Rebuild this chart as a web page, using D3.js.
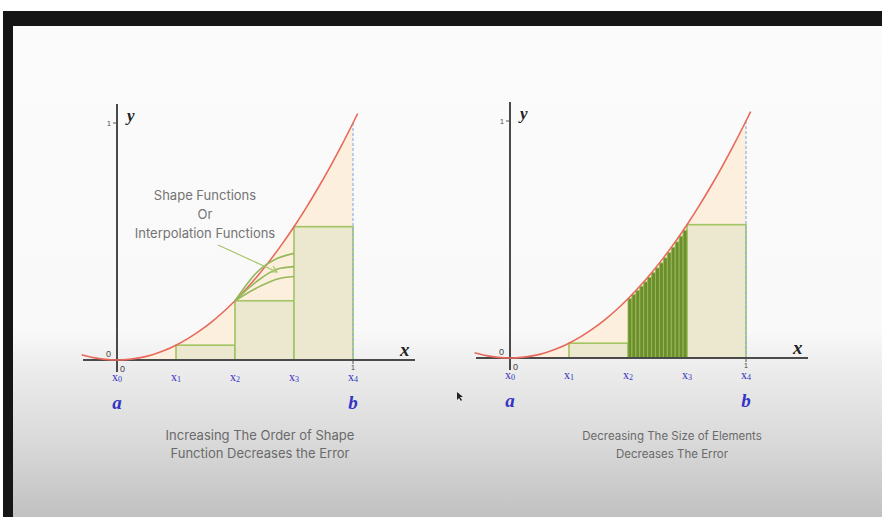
<!DOCTYPE html>
<html>
<head>
<meta charset="utf-8">
<script src="https://cdn.jsdelivr.net/npm/d3@7"></script>
<style>
  body { margin: 0; background: #fff; }
  svg { display: block; }
</style>
</head>
<body>
<script>
// y = x^2 illustration, two panels: coarse elements vs refined elements

const width = 882;
const height = 517;

// node positions on [a, b] and their labels
const nodes = [0, 0.25, 0.5, 0.75, 1];
const nodeLabels = ['0', '1', '2', '3', '4'];

// sampled curve (x, y)
const curveX = [-0.15, -0.1, -0.05, 0, 0.05, 0.1, 0.15, 0.2, 0.25, 0.3, 0.35, 0.4, 0.45, 0.5,
  0.55, 0.6, 0.65, 0.7, 0.75, 0.8, 0.85, 0.9, 0.95, 1, 1.02];
const curveY = [0.0225, 0.01, 0.0025, 0, 0.0025, 0.01, 0.0225, 0.04, 0.0625, 0.09, 0.1225, 0.16,
  0.2025, 0.25, 0.3025, 0.36, 0.4225, 0.49, 0.5625, 0.64, 0.7225, 0.81, 0.9025, 1, 1.04];

// coarse element heights (left value of each element)
const coarseHeights = [0, 0.0625, 0.25, 0.5625];

// refined elements between x2 and x3 (right panel)
const fineEdges = [0.5, 0.5167, 0.5333, 0.55, 0.5667, 0.5833, 0.6, 0.6167, 0.6333, 0.65,
  0.6667, 0.6833, 0.7, 0.7167, 0.7333, 0.75];
const fineHeights = [0.25, 0.267, 0.284, 0.3025, 0.321, 0.340, 0.36, 0.380, 0.401, 0.4225,
  0.444, 0.467, 0.49, 0.514, 0.538];

// higher order shape functions starting at (x2, f(x2))
const shapeX = [0.5, 0.59, 0.68, 0.75];
const shapeUpper = [0.25, 0.367, 0.429, 0.45];
const shapeMiddle = [0.25, 0.33, 0.384, 0.394];
const shapeLower = [0.25, 0.303, 0.342, 0.352];

const annotation = ['Shape Functions', 'Or', 'Interpolation Functions'];
const captionLeft = ['Increasing The Order of Shape', 'Function Decreases the Error'];
const captionRight = ['Decreasing The Size of Elements', 'Decreases The Error'];

const svg = d3.select('body').append('svg')
  .attr('width', width)
  .attr('height', height);

// ---- video frame background ----
const defs = svg.append('defs');
const grad = defs.append('linearGradient')
  .attr('id', 'bg')
  .attr('x1', 0).attr('y1', 0).attr('x2', 0).attr('y2', 1);
[[0, '#fbfbfb'], [0.62, '#f9f9f9'], [0.7, '#ececec'], [0.85, '#d9d9d9'], [1, '#c1c1c1']]
  .forEach(([o, c]) => grad.append('stop').attr('offset', o).attr('stop-color', c));

svg.append('rect').attr('width', width).attr('height', height).attr('fill', '#ffffff');
svg.append('rect').attr('x', 3).attr('y', 11).attr('width', width - 3).attr('height', height - 11)
  .attr('fill', '#151515');
svg.append('rect').attr('x', 13).attr('y', 26).attr('width', width - 13).attr('height', height - 26)
  .attr('fill', 'url(#bg)');

const curvePts = curveX.map((x, i) => [x, curveY[i]]);

function drawPanel(ox, oy, fine) {
  const x = d3.scaleLinear().domain([0, 1]).range([ox, ox + 236]);
  const y = d3.scaleLinear().domain([0, 1]).range([oy, oy - 237]);
  const g = svg.append('g');

  // pale area under the curve on [0, 1]
  const under = curvePts.filter(d => d[0] >= 0 && d[0] <= 1);
  g.append('path')
    .datum(under)
    .attr('d', d3.area().x(d => x(d[0])).y0(y(0)).y1(d => y(d[1])).curve(d3.curveMonotoneX))
    .attr('fill', '#fcefdd');

  // elements
  const elems = nodes.slice(0, -1).map((n, i) => ({ x0: n, x1: nodes[i + 1], h: coarseHeights[i] }))
    .filter(d => d.h > 0)
    .filter(d => !(fine && d.x0 === 0.5));
  g.selectAll('rect.elem')
    .data(elems)
    .enter()
    .append('rect')
    .attr('class', 'elem')
    .attr('x', d => x(d.x0))
    .attr('y', d => y(d.h))
    .attr('width', d => x(d.x1) - x(d.x0))
    .attr('height', d => y(0) - y(d.h))
    .attr('fill', '#ece8cf')
    .attr('stroke', '#a2c462')
    .attr('stroke-width', 1.6);

  if (fine) {
    g.selectAll('rect.fine')
      .data(fineHeights)
      .enter()
      .append('rect')
      .attr('class', 'fine')
      .attr('x', (d, i) => x(fineEdges[i]))
      .attr('y', d => y(d))
      .attr('width', (d, i) => x(fineEdges[i + 1]) - x(fineEdges[i]))
      .attr('height', d => y(0) - y(d))
      .attr('fill', '#6c8f2c')
      .attr('stroke', '#97b95a')
      .attr('stroke-width', 0.9);
  }

  // dashed line at b
  g.append('line')
    .attr('x1', x(1)).attr('x2', x(1))
    .attr('y1', y(1)).attr('y2', y(0))
    .attr('stroke', '#8fb2e3')
    .attr('stroke-width', 1.2)
    .attr('stroke-dasharray', '3,2');

  // axes
  g.append('line')
    .attr('x1', ox - 34).attr('x2', ox + 298)
    .attr('y1', y(0)).attr('y2', y(0))
    .attr('stroke', '#4a4a4a').attr('stroke-width', 2);
  g.append('line')
    .attr('x1', ox).attr('x2', ox)
    .attr('y1', oy - 256).attr('y2', oy + 12)
    .attr('stroke', '#4a4a4a').attr('stroke-width', 2);

  // y tick 1
  g.append('line')
    .attr('x1', ox - 4).attr('x2', ox)
    .attr('y1', y(1)).attr('y2', y(1))
    .attr('stroke', '#555').attr('stroke-width', 1);
  g.append('text').text('1')
    .attr('x', ox - 6).attr('y', y(1) + 3)
    .attr('text-anchor', 'end')
    .attr('font-family', 'Liberation Sans, sans-serif').attr('font-size', 7).attr('fill', '#444');
  g.append('text').text('0')
    .attr('x', ox - 6).attr('y', y(0) - 3)
    .attr('text-anchor', 'end')
    .attr('font-family', 'Liberation Sans, sans-serif').attr('font-size', 9).attr('fill', '#444');
  g.append('text').text('0')
    .attr('x', ox + 3).attr('y', y(0) + 12)
    .attr('font-family', 'Liberation Sans, sans-serif').attr('font-size', 9).attr('fill', '#444');
  g.append('line')
    .attr('x1', x(1)).attr('x2', x(1))
    .attr('y1', y(0)).attr('y2', y(0) + 4)
    .attr('stroke', '#555').attr('stroke-width', 1);
  g.append('text').text('1')
    .attr('x', x(1)).attr('y', y(0) + 10)
    .attr('text-anchor', 'middle')
    .attr('font-family', 'Liberation Sans, sans-serif').attr('font-size', 7).attr('fill', '#444');

  // axis names
  g.append('text').text('y')
    .attr('x', ox + 10).attr('y', y(1) - 2)
    .attr('font-family', 'Liberation Serif, serif').attr('font-style', 'italic')
    .attr('font-weight', 'bold').attr('font-size', 17).attr('fill', '#222');
  g.append('text').text('x')
    .attr('x', ox + 283).attr('y', y(0) - 4)
    .attr('font-family', 'Liberation Serif, serif').attr('font-style', 'italic')
    .attr('font-weight', 'bold').attr('font-size', 19).attr('fill', '#222');

  // node labels
  const lab = g.selectAll('text.node')
    .data(nodes)
    .enter()
    .append('text')
    .attr('class', 'node')
    .attr('x', d => x(d))
    .attr('y', y(0) + 21)
    .attr('text-anchor', 'middle')
    .attr('font-family', 'Liberation Serif, serif')
    .attr('font-size', 12)
    .attr('fill', '#3434c4');
  lab.append('tspan').text('x');
  lab.append('tspan').text((d, i) => nodeLabels[i]).attr('font-size', 8).attr('dy', 1);

  g.selectAll('text.ab')
    .data([[0, 'a'], [1, 'b']])
    .enter()
    .append('text')
    .attr('x', d => x(d[0]))
    .attr('y', y(0) + 49)
    .attr('text-anchor', 'middle')
    .attr('font-family', 'Liberation Serif, serif')
    .attr('font-style', 'italic').attr('font-weight', 'bold')
    .attr('font-size', 19)
    .attr('fill', '#3434c4')
    .text(d => d[1]);

  // red curve
  g.append('path')
    .datum(curvePts)
    .attr('d', d3.line().x(d => x(d[0])).y(d => y(d[1])).curve(d3.curveMonotoneX))
    .attr('fill', 'none')
    .attr('stroke', '#e8695c')
    .attr('stroke-width', 1.6);

  return { x, y, g };
}

const left = drawPanel(117, 360, false);
drawPanel(510, 358, true);

// shape functions on the left panel
const shapeLine = d3.line()
  .x(d => left.x(d[0]))
  .y(d => left.y(d[1]))
  .curve(d3.curveMonotoneX);
[shapeUpper, shapeMiddle, shapeLower].forEach((s) => {
  left.g.append('path')
    .datum(shapeX.map((v, i) => [v, s[i]]))
    .attr('d', shapeLine)
    .attr('fill', 'none')
    .attr('stroke', '#94b85a')
    .attr('stroke-width', 1.6);
});

// pointer from annotation
left.g.append('line')
  .attr('x1', 218).attr('y1', 245)
  .attr('x2', 277).attr('y2', 272)
  .attr('stroke', '#a8c66a').attr('stroke-width', 1.2);
left.g.append('path')
  .attr('d', 'M270,272 L277,272 L273,266')
  .attr('fill', 'none')
  .attr('stroke', '#a8c66a').attr('stroke-width', 1.2);

svg.selectAll('text.annot')
  .data(annotation)
  .enter()
  .append('text')
  .attr('x', 205)
  .attr('y', (d, i) => 200 + i * 19)
  .attr('text-anchor', 'middle')
  .attr('font-family', 'Inter, Open Sans, sans-serif')
  .attr('font-size', 13)
  .attr('fill', '#747474')
  .text(d => d);

// captions
function caption(lines, cx, size) {
  svg.selectAll(null)
    .data(lines)
    .enter()
    .append('text')
    .attr('x', cx)
    .attr('y', (d, i) => 440 + i * 18)
    .attr('text-anchor', 'middle')
    .attr('font-family', 'Inter, Open Sans, sans-serif')
    .attr('font-size', size)
    .attr('fill', '#6a6a6a')
    .text(d => d);
}
caption(captionLeft, 260, 13);
caption(captionRight, 672, 11.5);

// mouse pointer
svg.append('path')
  .attr('d', 'M457,392 L457,400 L459,398 L461,401 L462,400 L460,397 L463,397 Z')
  .attr('fill', '#222');
</script>
</body>
</html>
